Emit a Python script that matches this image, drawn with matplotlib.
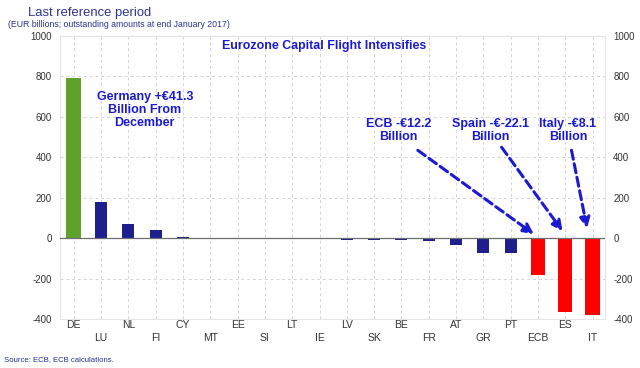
import matplotlib
matplotlib.use("Agg")
import matplotlib.pyplot as plt
import numpy as np

plt.rcParams['font.family'] = ['Liberation Sans', 'DejaVu Sans']
plt.rcParams['axes.unicode_minus'] = False

countries = ["DE", "LU", "NL", "FI", "CY", "MT", "EE", "SI", "LT", "IE",
             "LV", "SK", "BE", "FR", "AT", "GR", "PT", "ECB", "ES", "IT"]
values = [795, 177, 71, 41, 5, 0, 0, 0, -6, -6,
          -8, -8, -11, -15, -35, -74, -74, -180, -363, -380]
group = ["g", "b", "b", "b", "b", "b", "b", "b", "b", "b",
         "b", "b", "b", "b", "b", "b", "b", "r", "r", "r"]
yticks = [-400, -200, 0, 200, 400, 600, 800, 1000]

colors = {"g": "#5ea22c", "b": "#1e1e8c", "r": "#ff0000"}
widths = {"g": 0.55, "b": 0.44, "r": 0.52}
blue = "#1a1ad2"

fig = plt.figure(figsize=(6.4, 3.68), dpi=100)
ax = fig.add_axes([0.094, 0.133, 0.851, 0.769])

x = np.arange(len(countries))
ax.bar(x, values, width=[widths[g] for g in group],
       color=[colors[g] for g in group], zorder=3)
ax.axhline(0, color="#6e6e6e", lw=0.9, zorder=4)

ax.set_xlim(-0.5, 19.45)
ax.set_ylim(-400, 1000)
ax.set_yticks(yticks)
ax.set_xticks(x)
ax.set_xticklabels([c if i % 2 == 0 else "\n" + c for i, c in enumerate(countries)],
                   linespacing=1.35)
ax.tick_params(axis="both", length=0, labelsize=7.5, colors="#333333", pad=3)
ax.tick_params(axis="y", labelright=True, labelsize=7, pad=6)
ax.tick_params(axis="x", pad=1)
ax.grid(True, color="#d4d4d4", ls=(0, (3, 3)), lw=0.7, zorder=0)
for s in ax.spines.values():
    s.set_color("#e4e4e4")
    s.set_linewidth(0.8)

ax.text(0.485, 0.965, "Eurozone Capital Flight Intensifies", transform=ax.transAxes,
        ha="center", va="center", fontsize=8.9, fontweight="bold", color=blue)

tfont = dict(ha="center", va="center", fontsize=9, fontweight="bold", color=blue,
             linespacing=1.1)
ax.text(2.6, 633, "Germany +€41.3\nBillion From\nDecember", **tfont)
ax.text(11.9, 534, "ECB -€12.2\nBillion", **tfont)
ax.text(15.25, 534, "Spain -€-22.1\nBillion", **tfont)
ax.text(18.1, 534, "Italy -€8.1\nBillion", **tfont)

arrows = [((12.6, 435), (16.85, 20)),
          ((15.67, 450), (17.9, 35)),
          ((18.23, 435), (18.8, 50))]
for tail, head in arrows:
    ax.annotate("", xy=head, xytext=tail,
                arrowprops=dict(arrowstyle="-|>,head_length=0.6,head_width=0.3",
                                linestyle=(0, (3, 1.5)), lw=2.2, color=blue,
                                shrinkA=0, shrinkB=0), zorder=5)

fig.text(0.044, 0.957, "Last reference period", fontsize=9.4, color="#2d3592")
fig.text(0.012, 0.927, "(EUR billions; outstanding amounts at end January 2017)",
         fontsize=6.3, color="#2d3592")
fig.text(0.006, 0.02, "Source: ECB, ECB calculations.", fontsize=5.6, color="#24318a")

plt.savefig("out.png", dpi=100)
